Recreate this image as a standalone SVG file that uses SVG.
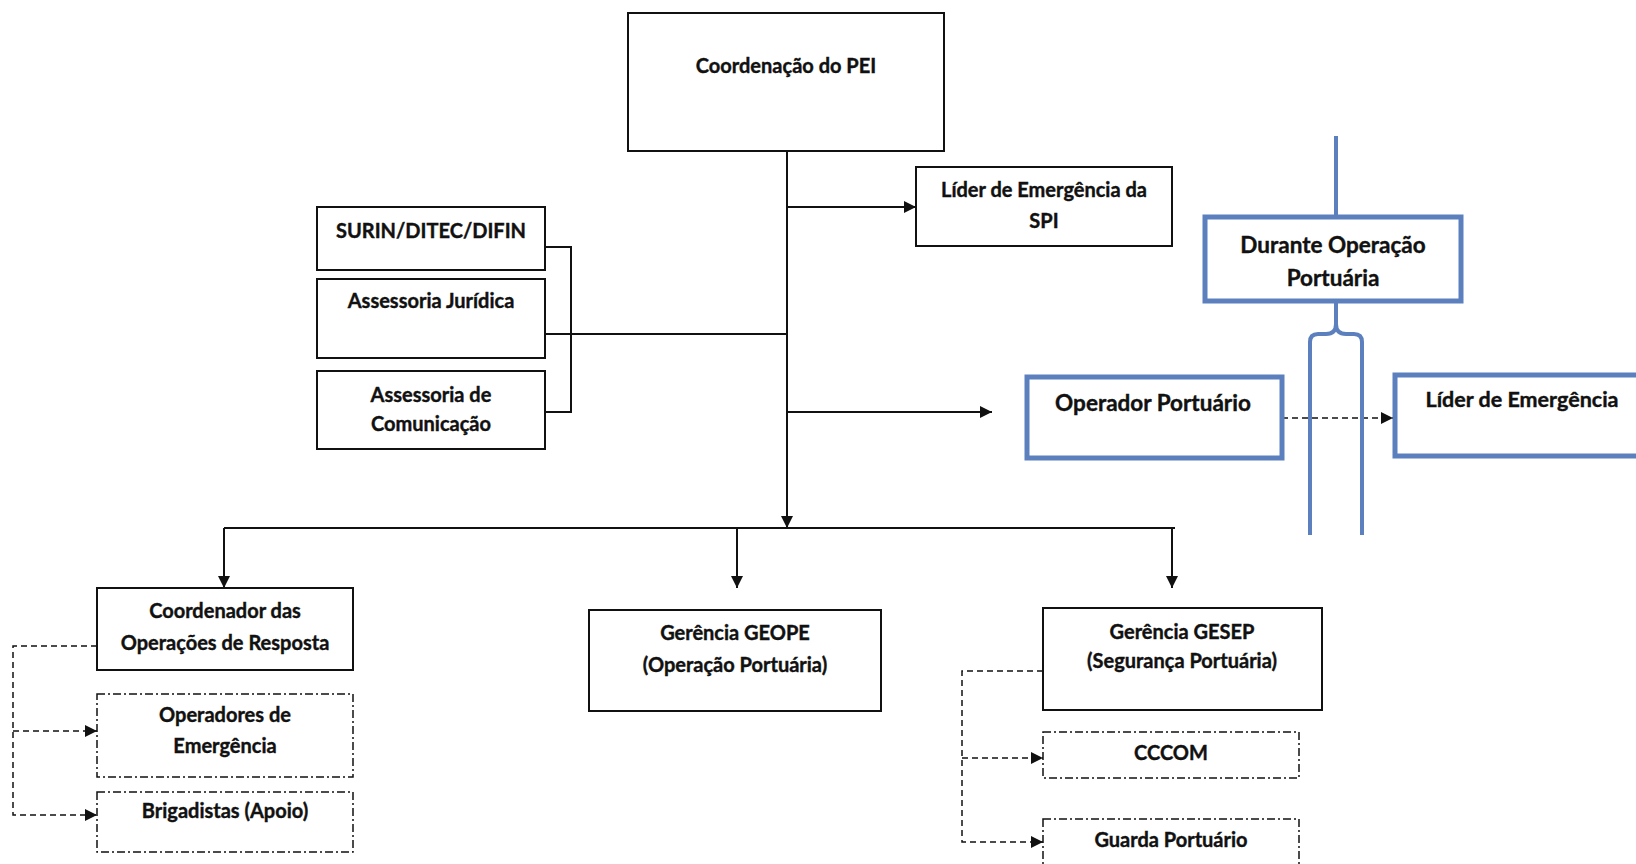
<svg xmlns="http://www.w3.org/2000/svg" width="1636" height="864" viewBox="0 0 1636 864">
<style>
  text { font-family: Lato, "Open Sans", "Liberation Sans", sans-serif; font-weight: bold; font-size: 20px; fill: #111; stroke: #111; stroke-width: 0.4; text-anchor: middle; }
  .big { font-size: 22.5px; }
  .mid { font-size: 21.5px; }
  .box { fill: #fff; stroke: #111; stroke-width: 2; }
  .dd { fill: #fff; stroke: #111; stroke-width: 1.5; stroke-dasharray: 8 3 2 3; }
  .blue { fill: #fff; stroke: #5b80bd; stroke-width: 5; }
  .conn { fill: none; stroke: #111; stroke-width: 2; }
  .dash { fill: none; stroke: #111; stroke-width: 1.5; stroke-dasharray: 6 4; }
  .bl { fill: none; stroke: #5b80bd; stroke-width: 4; }
</style>
<defs>
  <marker id="arr" viewBox="0 0 12 12" markerWidth="12" markerHeight="12" refX="12" refY="6" orient="auto" markerUnits="userSpaceOnUse">
    <path d="M0,0 L12,6 L0,12 z" fill="#111"/>
  </marker>
</defs>
<rect width="1636" height="864" fill="#fff"/>

<g id="connectors">
  <path class="conn" d="M787,151 V528" marker-end="url(#arr)"/>
  <path class="conn" d="M787,207 H916" marker-end="url(#arr)"/>
  <path class="conn" d="M545,334 H787"/>
  <path class="conn" d="M545,247 H571 V412 H545"/>
  <path class="conn" d="M787,412 H992" marker-end="url(#arr)"/>
  <path class="conn" d="M224,528 H1175"/>
  <path class="conn" d="M224,528 V588" marker-end="url(#arr)"/>
  <path class="conn" d="M737,528 V588" marker-end="url(#arr)"/>
  <path class="conn" d="M1172,528 V588" marker-end="url(#arr)"/>
  <path class="dash" d="M97,646 H13 V815 H97" marker-end="url(#arr)"/>
  <path class="dash" d="M13,731 H97" marker-end="url(#arr)"/>
  <path class="dash" d="M1043,671 H962 V842 H1043" marker-end="url(#arr)"/>
  <path class="dash" d="M962,758 H1043" marker-end="url(#arr)"/>
  <path class="dash" d="M1282,418 H1393" marker-end="url(#arr)"/>
  <path class="bl" d="M1336,136 V217"/>
  <path class="bl" d="M1336,302 V324 Q1336,334 1326,334 H1318 Q1310,334 1310,342 V535"/>
  <path class="bl" d="M1336,302 V324 Q1336,334 1346,334 H1354 Q1362,334 1362,342 V535"/>
</g>

<g id="coordenacao">
  <rect class="box" x="628" y="13" width="316" height="138"/>
  <text x="786" y="73">Coordenação do PEI</text>
</g>
<g id="lider-spi">
  <rect class="box" x="916" y="167" width="256" height="79"/>
  <text x="1044" y="197">Líder de Emergência da</text>
  <text x="1044" y="228">SPI</text>
</g>
<g id="surin">
  <rect class="box" x="317" y="207" width="228" height="63"/>
  <text x="431" y="238">SURIN/DITEC/DIFIN</text>
</g>
<g id="juridica">
  <rect class="box" x="317" y="279" width="228" height="79"/>
  <text x="431" y="308">Assessoria Jurídica</text>
</g>
<g id="comunicacao">
  <rect class="box" x="317" y="371" width="228" height="78"/>
  <text x="431" y="402">Assessoria de</text>
  <text x="431" y="431">Comunicação</text>
</g>
<g id="durante">
  <rect class="blue" x="1205" y="217" width="256" height="84"/>
  <text class="big" x="1333" y="253">Durante Operação</text>
  <text class="big" x="1333" y="286">Portuária</text>
</g>
<g id="operador">
  <rect class="blue" x="1027" y="377" width="255" height="81"/>
  <text class="big" x="1153" y="411">Operador Portuário</text>
</g>
<g id="lider-emergencia">
  <rect class="blue" x="1395" y="375" width="260" height="81"/>
  <text class="mid" x="1522" y="407">Líder de Emergência</text>
</g>
<g id="coordenador">
  <rect class="box" x="97" y="588" width="256" height="82"/>
  <text x="225" y="618">Coordenador das</text>
  <text x="225" y="650">Operações de Resposta</text>
</g>
<g id="operadores">
  <rect class="dd" x="97" y="694" width="256" height="83"/>
  <text x="225" y="722">Operadores de</text>
  <text x="225" y="753">Emergência</text>
</g>
<g id="brigadistas">
  <rect class="dd" x="97" y="792" width="256" height="60"/>
  <text x="225" y="818">Brigadistas (Apoio)</text>
</g>
<g id="geope">
  <rect class="box" x="589" y="610" width="292" height="101"/>
  <text x="735" y="640">Gerência GEOPE</text>
  <text x="735" y="672">(Operação Portuária)</text>
</g>
<g id="gesep">
  <rect class="box" x="1043" y="608" width="279" height="102"/>
  <text x="1182" y="639">Gerência GESEP</text>
  <text x="1182" y="668">(Segurança Portuária)</text>
</g>
<g id="cccom">
  <rect class="dd" x="1043" y="732" width="256" height="46"/>
  <text x="1171" y="760">CCCOM</text>
</g>
<g id="guarda">
  <rect class="dd" x="1043" y="819" width="256" height="60"/>
  <text x="1171" y="847">Guarda Portuário</text>
</g>
</svg>
